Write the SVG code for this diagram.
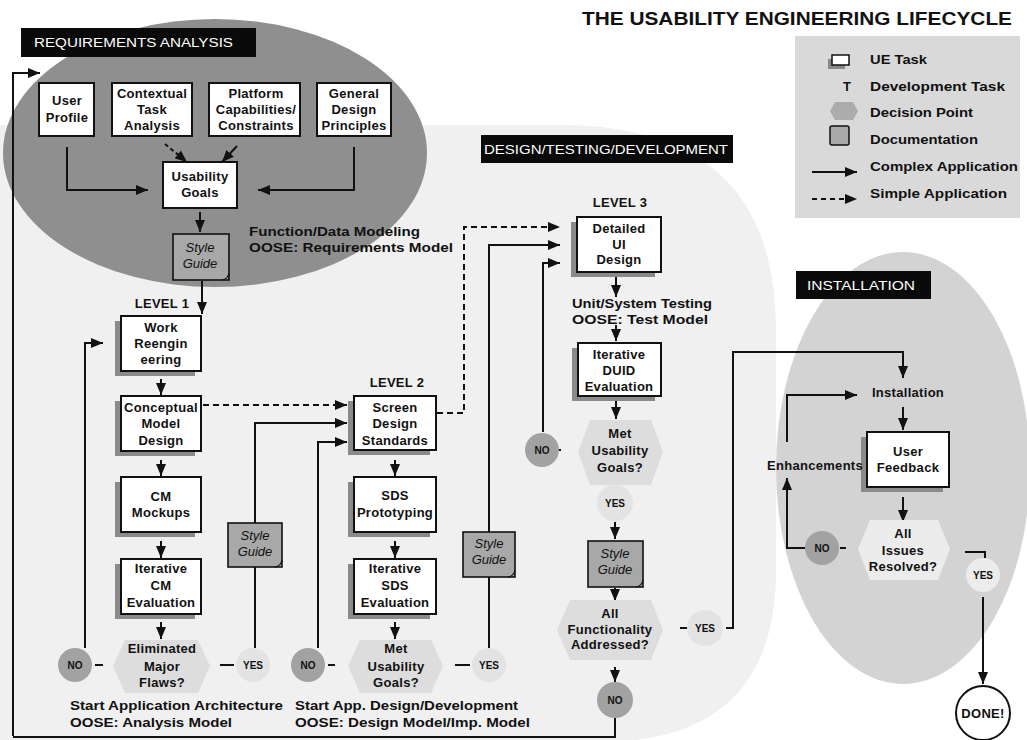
<svg xmlns="http://www.w3.org/2000/svg" width="1027" height="740" viewBox="0 0 1027 740">
<defs>
<marker id="ah" markerUnits="userSpaceOnUse" markerWidth="12" markerHeight="10" refX="12" refY="5" orient="auto">
<path d="M0,0 L12,5 L0,10 z" fill="#111"/>
</marker>
<style>
.t{font-family:"Liberation Sans",Arial,sans-serif;font-weight:bold;font-size:13px;letter-spacing:0.3px;text-anchor:middle;fill:#111}
.tl{font-family:"Liberation Sans",Arial,sans-serif;font-weight:bold;font-size:13px;fill:#111}
.ti{font-family:"Liberation Sans",Arial,sans-serif;font-style:italic;font-size:13px;text-anchor:middle;fill:#111}
.hd{font-family:"Liberation Sans",Arial,sans-serif;font-size:12.5px;fill:#fff}
.sm{font-size:10px;letter-spacing:0}
.lab{fill:#0a0a0a}
.box{fill:#fff;stroke:#111;stroke-width:2}
.sh{fill:#8a8a8a}
.doc{fill:#a8a8a8;stroke:#111;stroke-width:1.6}
.ln{fill:none;stroke:#111;stroke-width:2;marker-end:url(#ah)}
.pl{fill:none;stroke:#111;stroke-width:2}
.dl{fill:none;stroke:#111;stroke-width:2;stroke-dasharray:6 4;marker-end:url(#ah)}
.no{fill:#a2a2a2}
.yes{fill:#e3e3e3}
.hex{fill:#dddddd}
</style>
</defs>
<rect width="1027" height="740" fill="#fff"/>
<path d="M0,125 H560 Q776,125 776,330 V570 Q776,742 600,742 H0 Z" fill="#f0f0f0"/>
<ellipse cx="215" cy="153" rx="212" ry="134" fill="#8f8f8f"/>
<ellipse cx="903" cy="468" rx="127" ry="216" fill="#d3d3d3"/>

<text class="tl" x="1012" y="25" text-anchor="end" style="font-size:19px" textLength="430" lengthAdjust="spacingAndGlyphs">THE USABILITY ENGINEERING LIFECYCLE</text>

<g id="legend">
<rect x="795" y="36" width="225" height="182" fill="#d9d9d9"/>
<rect x="828" y="59" width="17" height="10" fill="#888"/>
<rect x="832" y="55" width="17" height="10" fill="#fff" stroke="#111" stroke-width="1.5"/>
<text class="tl" x="870" y="64" textLength="57" lengthAdjust="spacingAndGlyphs">UE Task</text>
<text class="t" x="847" y="91">T</text>
<text class="tl" x="870" y="91" textLength="135" lengthAdjust="spacingAndGlyphs">Development  Task</text>
<path d="M835,102 H853 L858,111 L853,120 H835 L830,111 Z" fill="#acacac"/>
<text class="tl" x="870" y="117" textLength="103" lengthAdjust="spacingAndGlyphs">Decision Point</text>
<rect x="830" y="126" width="19" height="19" rx="2" fill="#a8a8a8" stroke="#111" stroke-width="1.5"/>
<text class="tl" x="870" y="144" textLength="108" lengthAdjust="spacingAndGlyphs">Documentation</text>
<line x1="812" y1="172" x2="857" y2="172" class="ln"/>
<text class="tl" x="870" y="171" textLength="148" lengthAdjust="spacingAndGlyphs">Complex Application</text>
<line x1="812" y1="199" x2="857" y2="199" class="dl" style="stroke-dasharray:5 4"/>
<text class="tl" x="870" y="198" textLength="137" lengthAdjust="spacingAndGlyphs">Simple Application</text>
</g>

<g id="label-req">
<rect x="21" y="28" width="235" height="29" class="lab"/>
<text class="hd" x="34" y="47" textLength="199" lengthAdjust="spacingAndGlyphs">REQUIREMENTS ANALYSIS</text>
</g>
<g id="label-dtd">
<rect x="481" y="135" width="252" height="28" class="lab"/>
<text class="hd" x="484" y="154" textLength="244" lengthAdjust="spacingAndGlyphs">DESIGN/TESTING/DEVELOPMENT</text>
</g>
<g id="label-inst">
<rect x="796" y="271" width="135" height="28" class="lab"/>
<text class="hd" x="807" y="290" textLength="108" lengthAdjust="spacingAndGlyphs">INSTALLATION</text>
</g>

<g id="connectors">
<path class="ln" d="M13,736 V73 H40"/>
<path class="pl" d="M615,718 V737 H13"/>
<path class="ln" d="M67,147 V190 H148"/>
<path class="ln" d="M354,147 V190 H258"/>
<line x1="165" y1="144" x2="187" y2="162" class="ln" style="stroke-dasharray:4 3"/>
<line x1="237" y1="146" x2="222" y2="162" class="ln"/>
<line x1="200" y1="212" x2="200" y2="232" class="ln"/>
<line x1="202" y1="281" x2="202" y2="314" class="ln"/>
<line x1="161" y1="379" x2="161" y2="395" class="ln"/>
<line x1="161" y1="460" x2="161" y2="476" class="ln"/>
<line x1="161" y1="541" x2="161" y2="558" class="ln"/>
<line x1="161" y1="622" x2="161" y2="639" class="ln"/>
<path class="ln" d="M85,648 V343 H103"/>
<line x1="95" y1="665" x2="103" y2="665" class="pl"/>
<line x1="220" y1="665" x2="234" y2="665" class="pl"/>
<path class="ln" d="M255,648 V423 H347"/>
<path class="dl" d="M203,405 H347"/>
<line x1="395" y1="460" x2="395" y2="476" class="ln"/>
<line x1="395" y1="541" x2="395" y2="558" class="ln"/>
<line x1="395" y1="622" x2="395" y2="639" class="ln"/>
<path class="ln" d="M318,648 V442 H347"/>
<line x1="328" y1="665" x2="335" y2="665" class="pl"/>
<line x1="455" y1="665" x2="470" y2="665" class="pl"/>
<path class="ln" d="M489,648 V245 H560"/>
<path class="dl" d="M437,413 H464 V227 H560"/>
<line x1="616" y1="277" x2="616" y2="297" class="ln"/>
<line x1="616" y1="325" x2="616" y2="341" class="ln"/>
<line x1="616" y1="401" x2="616" y2="419" class="ln"/>
<path class="ln" d="M543,432 V263 H560"/>
<line x1="554" y1="450" x2="561" y2="450" class="pl"/>
<line x1="615" y1="479" x2="615" y2="485" class="pl"/>
<line x1="615" y1="522" x2="615" y2="539" class="ln"/>
<line x1="615" y1="588" x2="615" y2="601" class="ln"/>
<line x1="615" y1="667" x2="615" y2="682" class="ln"/>
<line x1="680" y1="628" x2="687" y2="628" class="pl"/>
<path class="ln" d="M726,628 H733 V352 H903 V378"/>
<line x1="903" y1="407" x2="903" y2="430" class="ln"/>
<line x1="903" y1="497" x2="903" y2="522" class="ln"/>
<path class="ln" d="M787,442 V395 H857"/>
<path class="ln" d="M805,548 H787 V478"/>
<line x1="840" y1="548" x2="846" y2="548" class="pl"/>
<path class="pl" d="M965,552 H985 V558"/>
<line x1="983" y1="597" x2="983" y2="684" class="ln"/>
</g>

<g id="user-profile"><rect x="39" y="83" width="55" height="53" class="box"/>
<text class="t" x="67" y="105">User</text><text class="t" x="67" y="122">Profile</text></g>
<g id="contextual-task"><rect x="112" y="83" width="80" height="53" class="box"/>
<text class="t" x="152" y="98">Contextual</text><text class="t" x="152" y="114">Task</text><text class="t" x="152" y="130">Analysis</text></g>
<g id="platform"><rect x="209" y="83" width="91" height="53" class="box"/>
<text class="t" x="256" y="98">Platform</text><text class="t" x="256" y="114">Capabilities/</text><text class="t" x="256" y="130">Constraints</text></g>
<g id="general-design"><rect x="317" y="83" width="74" height="53" class="box"/>
<text class="t" x="354" y="98">General</text><text class="t" x="354" y="114">Design</text><text class="t" x="354" y="130">Principles</text></g>
<g id="usability-goals"><rect x="163" y="162" width="74" height="46" class="box"/>
<text class="t" x="200" y="181">Usability</text><text class="t" x="200" y="197">Goals</text></g>
<g id="style-guide-0"><rect x="173" y="234" width="56" height="46" class="doc"/>
<path d="M222,280 Q228,279 229,273" fill="none" stroke="#111" stroke-width="1.2"/>
<text class="ti" x="200" y="252">Style</text><text class="ti" x="200" y="268">Guide</text></g>
<text class="tl" x="249" y="236" textLength="171" lengthAdjust="spacingAndGlyphs">Function/Data Modeling</text>
<text class="tl" x="249" y="252" textLength="204" lengthAdjust="spacingAndGlyphs">OOSE:  Requirements Model</text>

<text class="t" x="162" y="308">LEVEL 1</text>
<g id="work-reeng"><rect x="115" y="321" width="80" height="55" class="sh"/><rect x="121" y="316" width="80" height="55" class="box"/>
<text class="t" x="161" y="332">Work</text><text class="t" x="161" y="348">Reengin</text><text class="t" x="161" y="364">eering</text></g>
<g id="cm-design"><rect x="115" y="401" width="80" height="55" class="sh"/><rect x="121" y="396" width="80" height="55" class="box"/>
<text class="t" x="161" y="412">Conceptual</text><text class="t" x="161" y="428">Model</text><text class="t" x="161" y="445">Design</text></g>
<g id="cm-mockups"><rect x="115" y="482" width="80" height="55" class="sh"/><rect x="121" y="477" width="80" height="55" class="box"/>
<text class="t" x="161" y="501">CM</text><text class="t" x="161" y="517">Mockups</text></g>
<g id="cm-eval"><rect x="115" y="564" width="80" height="55" class="sh"/><rect x="121" y="559" width="80" height="55" class="box"/>
<text class="t" x="161" y="573">Iterative</text><text class="t" x="161" y="590">CM</text><text class="t" x="161" y="607">Evaluation</text></g>
<g id="dec-flaws"><path d="M125,640 H198 L210,666 L198,693 H125 L113,666 Z" class="hex"/>
<text class="t" x="162" y="653">Eliminated</text><text class="t" x="162" y="671">Major</text><text class="t" x="162" y="687">Flaws?</text></g>
<g id="no-1"><circle cx="75" cy="665" r="17" class="no"/><text class="t sm" x="75" y="669">NO</text></g>
<g id="yes-1"><circle cx="253" cy="665" r="17" class="yes"/><text class="t sm" x="253" y="669">YES</text></g>
<g id="style-guide-1"><rect x="228" y="523" width="54" height="44" class="doc"/>
<path d="M275,567 Q281,566 282,560" fill="none" stroke="#111" stroke-width="1.2"/>
<text class="ti" x="255" y="540">Style</text><text class="ti" x="255" y="556">Guide</text></g>
<text class="tl" x="70" y="710" textLength="213" lengthAdjust="spacingAndGlyphs">Start  Application Architecture</text>
<text class="tl" x="70" y="727" textLength="162" lengthAdjust="spacingAndGlyphs">OOSE:  Analysis Model</text>

<text class="t" x="397" y="387">LEVEL 2</text>
<g id="sds"><rect x="348" y="401" width="82" height="54" class="sh"/><rect x="354" y="396" width="82" height="54" class="box"/>
<text class="t" x="395" y="412">Screen</text><text class="t" x="395" y="428">Design</text><text class="t" x="395" y="445">Standards</text></g>
<g id="sds-proto"><rect x="348" y="482" width="82" height="55" class="sh"/><rect x="354" y="477" width="82" height="55" class="box"/>
<text class="t" x="395" y="500">SDS</text><text class="t" x="395" y="517">Prototyping</text></g>
<g id="sds-eval"><rect x="348" y="564" width="82" height="55" class="sh"/><rect x="354" y="559" width="82" height="55" class="box"/>
<text class="t" x="395" y="573">Iterative</text><text class="t" x="395" y="590">SDS</text><text class="t" x="395" y="607">Evaluation</text></g>
<g id="dec-met2"><path d="M360,640 H431 L443,666 L431,693 H360 L348,666 Z" class="hex"/>
<text class="t" x="396" y="653">Met</text><text class="t" x="396" y="671">Usability</text><text class="t" x="396" y="687">Goals?</text></g>
<g id="no-2"><circle cx="308" cy="665" r="17" class="no"/><text class="t sm" x="308" y="669">NO</text></g>
<g id="yes-2"><circle cx="489" cy="665" r="17" class="yes"/><text class="t sm" x="489" y="669">YES</text></g>
<g id="style-guide-2"><rect x="463" y="532" width="52" height="45" class="doc"/>
<path d="M508,577 Q514,576 515,570" fill="none" stroke="#111" stroke-width="1.2"/>
<text class="ti" x="489" y="548">Style</text><text class="ti" x="489" y="564">Guide</text></g>
<text class="tl" x="295" y="710" textLength="223" lengthAdjust="spacingAndGlyphs">Start  App. Design/Development</text>
<text class="tl" x="295" y="727" textLength="235" lengthAdjust="spacingAndGlyphs">OOSE:  Design Model/Imp. Model</text>

<text class="t" x="620" y="207">LEVEL 3</text>
<g id="detailed-ui"><rect x="571" y="222" width="84" height="55" class="sh"/><rect x="577" y="217" width="84" height="55" class="box"/>
<text class="t" x="619" y="233">Detailed</text><text class="t" x="619" y="249">UI</text><text class="t" x="619" y="264">Design</text></g>
<text class="tl" x="572" y="308" textLength="140" lengthAdjust="spacingAndGlyphs">Unit/System Testing</text>
<text class="tl" x="572" y="324" textLength="136" lengthAdjust="spacingAndGlyphs">OOSE:  Test Model</text>
<g id="duid-eval"><rect x="572" y="348" width="83" height="53" class="sh"/><rect x="578" y="343" width="83" height="53" class="box"/>
<text class="t" x="619" y="359">Iterative</text><text class="t" x="619" y="375">DUID</text><text class="t" x="619" y="391">Evaluation</text></g>
<g id="dec-met3"><path d="M590,420 H651 L663,452 L651,485 H590 L578,452 Z" class="hex"/>
<text class="t" x="620" y="438">Met</text><text class="t" x="620" y="455">Usability</text><text class="t" x="620" y="472">Goals?</text></g>
<g id="no-3"><circle cx="542" cy="450" r="17" class="no"/><text class="t sm" x="542" y="454">NO</text></g>
<g id="yes-3"><circle cx="615" cy="503" r="18" class="yes"/><text class="t sm" x="615" y="507">YES</text></g>
<g id="style-guide-3"><rect x="588" y="541" width="55" height="46" class="doc"/>
<path d="M636,587 Q642,586 643,580" fill="none" stroke="#111" stroke-width="1.2"/>
<text class="ti" x="615" y="558">Style</text><text class="ti" x="615" y="574">Guide</text></g>
<g id="dec-allfunc"><path d="M570,600 H651 L663,630 L651,660 H570 L557,630 Z" class="hex"/>
<text class="t" x="610" y="618">All</text><text class="t" x="610" y="634">Functionality</text><text class="t" x="610" y="649">Addressed?</text></g>
<g id="yes-4"><circle cx="705" cy="628" r="18" class="yes"/><text class="t sm" x="705" y="632">YES</text></g>
<g id="no-4"><circle cx="615" cy="700" r="18" class="no"/><text class="t sm" x="615" y="704">NO</text></g>

<g id="installation"><text class="t" x="908" y="397">Installation</text></g>
<g id="user-feedback"><rect x="861" y="437" width="82" height="55" class="sh"/><rect x="867" y="432" width="82" height="55" class="box"/>
<text class="t" x="908" y="456">User</text><text class="t" x="908" y="472">Feedback</text></g>
<g id="enhancements"><text class="t" x="815" y="470">Enhancements</text></g>
<g id="dec-issues"><path d="M870,520 H938 L950,549 L938,580 H870 L858,549 Z" fill="#ececec"/>
<text class="t" x="903" y="538">All</text><text class="t" x="903" y="555">Issues</text><text class="t" x="903" y="571">Resolved?</text></g>
<g id="no-5"><circle cx="822" cy="548" r="17" class="no"/><text class="t sm" x="822" y="552">NO</text></g>
<g id="yes-5"><circle cx="983" cy="575" r="17" fill="#ececec"/><text class="t sm" x="983" y="579">YES</text></g>
<g id="done"><circle cx="983" cy="713" r="27" fill="#fff" stroke="#111" stroke-width="2"/><text class="t" x="983" y="718">DONE!</text></g>
</svg>
